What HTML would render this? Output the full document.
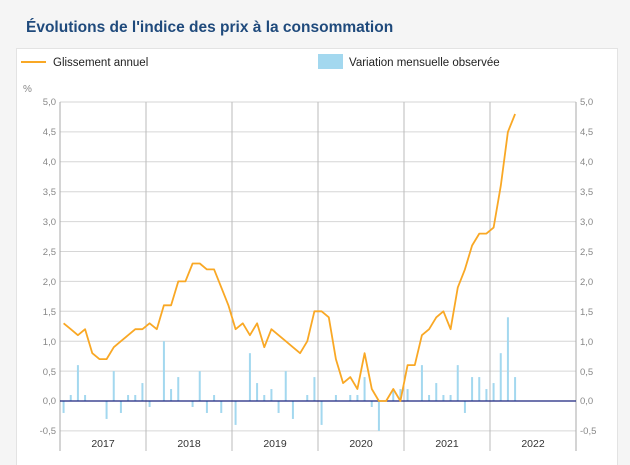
<!DOCTYPE html>
<html><head><meta charset="utf-8"><style>
html,body{margin:0;padding:0;background:#f5f5f5;width:630px;height:465px;overflow:hidden;font-family:"Liberation Sans",sans-serif}
</style></head><body>
<svg id="s" width="630" height="465" xmlns="http://www.w3.org/2000/svg" font-family="Liberation Sans, sans-serif">
<rect x="16.5" y="48.5" width="601" height="420" fill="#fff" stroke="#e3e3e3"/>
<text x="26" y="32" font-size="15.5" fill="#1f4a7c" font-weight="bold">Évolutions de l'indice des prix à la consommation</text>
<line x1="21" y1="62" x2="46" y2="62" stroke="#f9a825" stroke-width="2"/>
<text x="53" y="66" font-size="11.5" fill="#222">Glissement annuel</text>
<rect x="318" y="54" width="25" height="15" fill="#a3d8ef"/>
<text x="349" y="66" font-size="11.5" fill="#222">Variation mensuelle observée</text>
<text x="23" y="92" font-size="10" fill="#888">%</text>
<g id="grid"></g>
<g font-size="9.5" fill="#888" text-anchor="end">
<text x="56" y="105">5,0</text><text x="56" y="165">4,0</text><text x="56" y="135">4,5</text>
<text x="56" y="195">3,5</text><text x="56" y="225">3,0</text><text x="56" y="255">2,5</text>
<text x="56" y="285">2,0</text><text x="56" y="315">1,5</text><text x="56" y="345">1,0</text>
<text x="56" y="375">0,5</text><text x="56" y="404">0,0</text><text x="56" y="434">-0,5</text>
</g>
<g font-size="9.5" fill="#888">
<text x="580" y="105">5,0</text><text x="580" y="165">4,0</text><text x="580" y="135">4,5</text>
<text x="580" y="195">3,5</text><text x="580" y="225">3,0</text><text x="580" y="255">2,5</text>
<text x="580" y="285">2,0</text><text x="580" y="315">1,5</text><text x="580" y="345">1,0</text>
<text x="580" y="375">0,5</text><text x="580" y="404">0,0</text><text x="580" y="434">-0,5</text>
</g>
<g font-size="10.5" fill="#333" text-anchor="middle">
<text x="103" y="447">2017</text><text x="189" y="447">2018</text><text x="275" y="447">2019</text>
<text x="361" y="447">2020</text><text x="447" y="447">2021</text><text x="533" y="447">2022</text>
</g>
</svg>
<script>
var NS="http://www.w3.org/2000/svg",g=document.getElementById('grid');
function el(n,a){var e=document.createElementNS(NS,n);for(var k in a)e.setAttribute(k,a[k]);g.appendChild(e);return e;}
function Y(v){return 401-v*59.8;}
for(var i=-1;i<=10;i++){var y=Y(i*0.5);el('line',{x1:60,x2:576,y1:y,y2:y,stroke:'#d6d6d6','stroke-width':1});}
for(var j=0;j<=6;j++){var x=60+j*86;el('line',{x1:x,x2:x,y1:102,y2:451,stroke:j==0||j==6?'#aaa':'#bbb','stroke-width':1});}
var bars=[-0.2,0.1,0.6,0.1,0,0,-0.3,0.5,-0.2,0.1,0.1,0.3,
-0.1,0,1.0,0.2,0.4,0,-0.1,0.5,-0.2,0.1,-0.2,0,
-0.4,0,0.8,0.3,0.1,0.2,-0.2,0.5,-0.3,0,0.1,0.4,
-0.4,0,0.1,0,0.1,0.1,0.4,-0.1,-0.5,0,0.2,0.2,
0.2,0,0.6,0.1,0.3,0.1,0.1,0.6,-0.2,0.4,0.4,0.2,
0.3,0.8,1.4,0.4];
var line=[1.3,1.2,1.1,1.2,0.8,0.7,0.7,0.9,1.0,1.1,1.2,1.2,
1.3,1.2,1.6,1.6,2.0,2.0,2.3,2.3,2.2,2.2,1.9,1.6,
1.2,1.3,1.1,1.3,0.9,1.2,1.1,1.0,0.9,0.8,1.0,1.5,
1.5,1.4,0.7,0.3,0.4,0.2,0.8,0.2,0.0,0.0,0.2,0.0,
0.6,0.6,1.1,1.2,1.4,1.5,1.2,1.9,2.2,2.6,2.8,2.8,
2.9,3.6,4.5,4.8];
function X(i){return 60+(i+0.5)*86/12;}
bars.forEach(function(v,i){if(v==0)return;var y0=Y(0),y1=Y(v);el('rect',{x:X(i)-1,y:Math.min(y0,y1),width:2,height:Math.abs(y1-y0),fill:'#a3d8ef'});});
el('line',{x1:60,x2:576,y1:401,y2:401,stroke:'#1a237e','stroke-width':1.3});
el('polyline',{points:line.map(function(v,i){return X(i).toFixed(1)+','+Y(v).toFixed(1);}).join(' '),fill:'none',stroke:'#f9a825','stroke-width':1.8,'stroke-linejoin':'round'});
</script>
</body></html>
